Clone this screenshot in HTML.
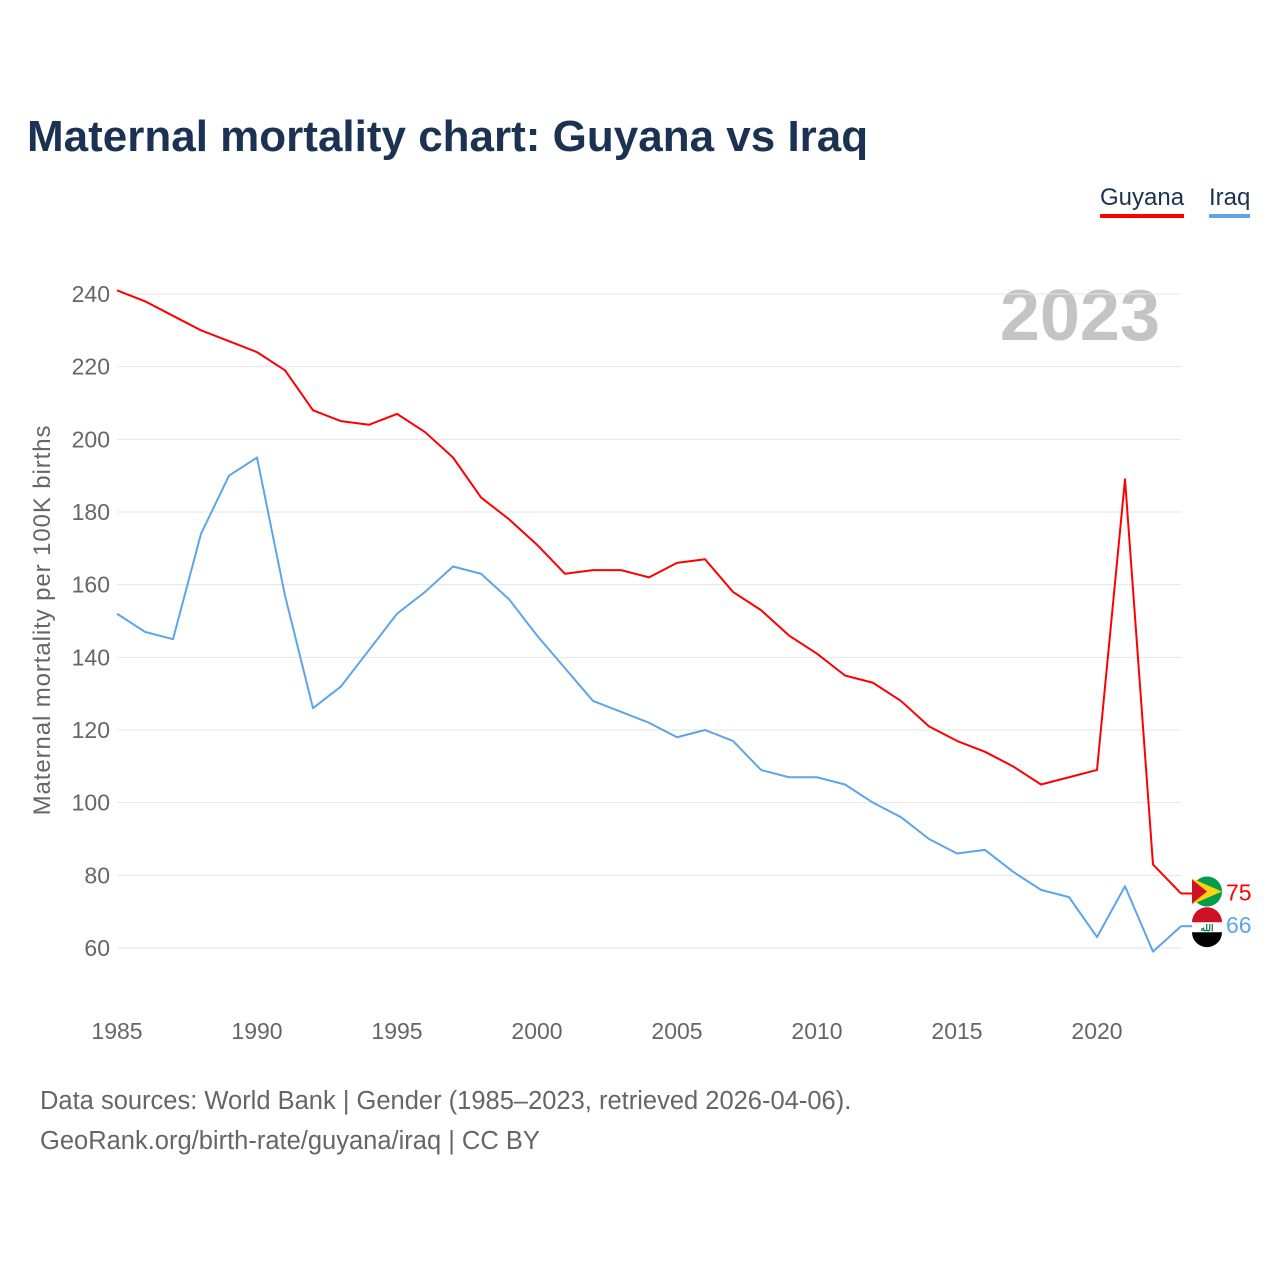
<!DOCTYPE html>
<html><head><meta charset="utf-8">
<style>
body{margin:0;background:#fff;font-family:"Liberation Sans",sans-serif;}
#wrap{position:relative;width:1280px;height:1280px;overflow:hidden;}
h1{position:absolute;left:27px;top:112px;margin:0;font-size:44px;font-weight:bold;color:#1b3252;}
.leg{position:absolute;top:184px;font-size:24px;color:#1b3252;padding-bottom:2px;}
.src{position:absolute;left:40px;font-size:25.5px;color:#666;}
</style></head><body>
<div id="wrap">
<h1>Maternal mortality chart: Guyana vs Iraq</h1>
<div class="leg" style="left:1100px;border-bottom:4px solid #f00">Guyana</div>
<div class="leg" style="left:1209px;border-bottom:4px solid #5ba6ea">Iraq</div>
<svg id="chart" width="1280" height="1280" style="position:absolute;left:0;top:0"></svg>
<div class="src" style="top:1087px">Data sources: World Bank | Gender (1985–2023, retrieved 2026-04-06).</div>
<div class="src" style="top:1127px">GeoRank.org/birth-rate/guyana/iraq | CC BY</div>
</div>
<script>
const years=[];for(let y=1985;y<=2023;y++)years.push(y);
const guyana=[241,238,234,230,227,224,219,208,205,204,207,202,195,184,178,171,163,164,164,162,166,167,158,153,146,141,135,133,128,121,117,114,110,105,107,109,189,83,75];
const iraq=[152,147,145,174,190,195,157,126,132,142,152,158,165,163,156,146,137,128,125,122,118,120,117,109,107,107,105,100,96,90,86,87,81,76,74,63,77,59,66];
const yTicks=[60,80,100,120,140,160,180,200,220,240];
const xTicks=[1985,1990,1995,2000,2005,2010,2015,2020];
const X=y=>117+(y-1985)*28;
const Y=v=>948-(v-60)*(654/180);
const NS="http://www.w3.org/2000/svg",svg=document.getElementById('chart');
function mk(t,a,txt){const e=document.createElementNS(NS,t);for(const k in a)e.setAttribute(k,a[k]);if(txt!=null)e.textContent=txt;svg.appendChild(e);return e;}
let t=mk('text',{x:1160,y:340,'font-size':72,'font-weight':'bold',fill:'#c4c4c4','text-anchor':'end'},'2023');


yTicks.forEach(v=>{
 let l=mk('line',{x1:117,x2:1181,y1:Y(v),y2:Y(v),stroke:'#e6e6e6','stroke-width':1});
 
 
 let s=mk('text',{x:110,y:Y(v)+8,'font-size':23,fill:'#666','text-anchor':'end'},v);
 
 
});
xTicks.forEach(v=>{
 let s=mk('text',{x:X(v),y:1039,'font-size':23,fill:'#666','text-anchor':'middle'},v);
 
 
});
let at=mk('text',{x:0,y:0,'font-size':24,'letter-spacing':0.9,fill:'#666','text-anchor':'middle',transform:'translate(50,620) rotate(-90)'},'Maternal mortality per 100K births');


function series(d,c,name){
 let p=mk('polyline',{points:d.map((v,i)=>X(years[i])+','+Y(v)).join(' '),fill:'none',stroke:c,'stroke-width':2,'stroke-linejoin':'round'});
 
 
 const last=d[d.length-1],lx=X(years[years.length-1]);
 let ln=mk('line',{x1:lx,x2:lx+12,y1:Y(last),y2:Y(last),stroke:c,'stroke-width':2});
 
 
 return last;
}
const gl=series(guyana,'#ff0000','guyana');
const il=series(iraq,'#5ba6ea','iraq');
let gy=Y(gl)-2,iy=Y(il);
let f1=mk('circle',{cx:1207,cy:gy,r:15,fill:'#009e49'});


mk('polygon',{points:`1192,${gy-13} 1222,${gy} 1192,${gy+13}`,fill:'#fcd116'});
mk('polygon',{points:`1192,${gy-12} 1207,${gy} 1192,${gy+12}`,fill:'#ce1126'});
let f2=mk('circle',{cx:1207,cy:iy+1,r:15,fill:'#fff'});


mk('path',{d:`M1192,${iy-4} A15,15 0 0 1 1222,${iy-4} Z`,fill:'#ce1126'});
mk('path',{d:`M1192,${iy+6} A15,15 0 0 0 1222,${iy+6} Z`,fill:'#000'});
mk('text',{x:1207,y:iy+5,'font-size':9,fill:'#007a3d','text-anchor':'middle','font-weight':'bold'},'الله');
let v1=mk('text',{x:1226,y:Y(gl)+7,'font-size':23,fill:'#ff0000'},gl);


let v2=mk('text',{x:1226,y:Y(il)+7,'font-size':23,fill:'#5ba6ea'},il);


</script>
</body></html>
